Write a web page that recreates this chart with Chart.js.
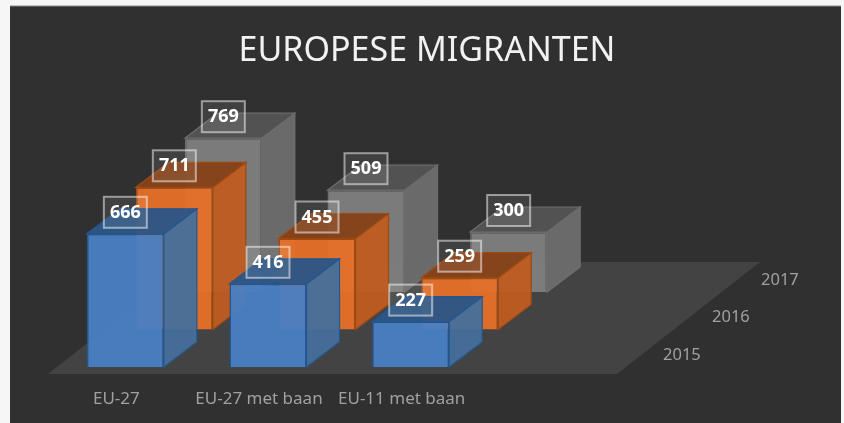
<!DOCTYPE html>
<html>
<head>
<meta charset="utf-8">
<style>
  html, body { margin: 0; padding: 0; background: #f6f6f6; }
  #wrap { width: 844px; height: 423px; }
</style>
<script src="https://cdn.jsdelivr.net/npm/chart.js@4/dist/chart.umd.min.js"></script>
</head>
<body>
<div id="wrap"><canvas id="migrantChart" width="844" height="423"></canvas></div>
<script>
const chartTitle = 'EUROPESE MIGRANTEN';
const categories = ['EU-27', 'EU-27 met baan', 'EU-11 met baan'];
const seriesNames = ['2015', '2016', '2017'];
const values2015 = [666, 416, 227];
const values2016 = [711, 455, 259];
const values2017 = [769, 509, 300];

// colours per series: front, edge, side, top
const frontColors = ['rgba(72,128,196,0.95)', 'rgba(232,112,40,0.94)', 'rgba(128,128,128,0.94)'];
const edgeColors = ['#25568f', '#9c4a12', '#6d6d6d'];
const sideColors = ['rgba(68,110,156,0.94)', 'rgba(190,92,34,0.96)', 'rgba(108,108,108,0.96)'];
const topColors = ['rgba(44,86,134,0.96)', 'rgba(134,66,26,0.97)', 'rgba(84,84,84,0.97)'];

const FONT = "'Noto Sans', sans-serif";
const SLICE_DX = 49, SLICE_DY = -37.5;   // shift between year rows
const DEPTH_DX = 33, DEPTH_DY = -25;     // box depth

function quad(ctx, pts, fill, stroke) {
  ctx.beginPath();
  pts.forEach((p, i) => i ? ctx.lineTo(p[0], p[1]) : ctx.moveTo(p[0], p[1]));
  ctx.closePath();
  ctx.fillStyle = fill;
  ctx.fill();
  ctx.strokeStyle = stroke;
  ctx.lineWidth = 1.2;
  ctx.stroke();
}

// panel, floor and year labels
const stagePlugin = {
  id: 'stage',
  beforeDraw(chart) {
    const ctx = chart.ctx;
    ctx.save();
    ctx.fillStyle = '#303030';
    ctx.fillRect(10, 6, 831, 417);
    ctx.strokeStyle = '#8a8a8a';
    ctx.lineWidth = 1;
    ctx.beginPath();
    ctx.moveTo(10, 6); ctx.lineTo(841, 6);
    ctx.stroke();
    ctx.restore();
  },
  beforeDatasetsDraw(chart) {
    const ctx = chart.ctx;
    const x = chart.scales.x, base = chart.scales.y.getPixelForValue(0);
    const fl = x.left - 6, fr = fl + 569, fy = base + 7;
    ctx.save();
    ctx.beginPath();
    ctx.moveTo(fl, fy);
    ctx.lineTo(fr, fy);
    ctx.lineTo(fr + 143, fy - 112);
    ctx.lineTo(fl + 143, fy - 112);
    ctx.closePath();
    ctx.fillStyle = '#434343';
    ctx.fill();
    ctx.font = '16.5px ' + FONT;
    ctx.fillStyle = '#a0a0a0';
    ctx.textBaseline = 'middle';
    ctx.textAlign = 'left';
    seriesNames.forEach((name, i) => {
      ctx.fillText(name, 663 + i * SLICE_DX, base - 12 + i * SLICE_DY);
    });
    ctx.restore();
  }
};

// each dataset is shifted back one row, side and top faces are added to the bars
const depthPlugin = {
  id: 'depth',
  beforeDatasetDraw(chart, args) {
    chart.ctx.save();
    chart.ctx.translate(args.index * SLICE_DX, args.index * SLICE_DY);
  },
  afterDatasetDraw(chart, args) {
    const ctx = chart.ctx, i = args.index;
    args.meta.data.forEach(bar => {
      const l = bar.x - bar.width / 2, r = bar.x + bar.width / 2, t = bar.y, b = bar.base;
      quad(ctx, [[r, t], [r + DEPTH_DX, t + DEPTH_DY], [r + DEPTH_DX, b + DEPTH_DY], [r, b]], sideColors[i], edgeColors[i]);
      quad(ctx, [[l, t], [l + DEPTH_DX, t + DEPTH_DY], [r + DEPTH_DX, t + DEPTH_DY], [r, t]], topColors[i], edgeColors[i]);
    });
    ctx.restore();
  },
  afterDatasetsDraw(chart) {
    const ctx = chart.ctx;
    ctx.save();
    ctx.font = 'bold 18px ' + FONT;
    ctx.textAlign = 'center';
    ctx.textBaseline = 'middle';
    chart.data.datasets.forEach((ds, i) => {
      chart.getDatasetMeta(i).data.forEach((bar, j) => {
        const cx = bar.x + i * SLICE_DX, cy = bar.y + i * SLICE_DY - 21.5;
        ctx.fillStyle = 'rgba(255,255,255,0.08)';
        ctx.fillRect(cx - 21.5, cy - 15.5, 43, 31);
        ctx.strokeStyle = 'rgba(255,255,255,0.5)';
        ctx.lineWidth = 2;
        ctx.strokeRect(cx - 21.5, cy - 15.5, 43, 31);
        ctx.fillStyle = '#ffffff';
        ctx.fillText(ds.data[j], cx, cy + 0.5);
      });
    });
    ctx.restore();
  }
};

function makeDataset(label, data, i) {
  return {
    label: label,
    data: data,
    grouped: false,
    backgroundColor: frontColors[i],
    borderColor: edgeColors[i],
    borderWidth: 1.5,
    barPercentage: 0.54,
    categoryPercentage: 1,
    clip: false
  };
}

new Chart(document.getElementById('migrantChart'), {
  type: 'bar',
  data: {
    labels: categories,
    datasets: [
      makeDataset(seriesNames[0], values2015, 0),
      makeDataset(seriesNames[1], values2016, 1),
      makeDataset(seriesNames[2], values2017, 2)
    ]
  },
  plugins: [stagePlugin, depthPlugin],
  options: {
    responsive: false,
    animation: false,
    layout: { padding: { left: 10, right: 0, top: 0, bottom: 0 } },
    plugins: {
      legend: { display: false },
      tooltip: { enabled: false },
      title: {
        display: true,
        text: chartTitle,
        color: '#f2f2f2',
        font: { family: FONT, size: 34, weight: 'normal', lineHeight: 1.2 },
        padding: { top: 31, bottom: 15.2 }
      }
    },
    scales: {
      x: {
        grid: { display: false },
        border: { display: false },
        ticks: {
          color: '#a0a0a0',
          font: { family: FONT, size: 17 },
          padding: 14,
          labelOffset: -9,
          maxRotation: 0,
          autoSkip: false
        },
        afterFit: s => { s.height = 56; }
      },
      y: {
        min: 0,
        max: 1400,
        grid: { display: false },
        border: { display: false },
        ticks: { display: false },
        afterFit: s => { s.width = 44; }
      },
      // only reserves the room at the right of the bars
      spacer: {
        type: 'linear',
        position: 'right',
        grid: { display: false },
        border: { display: false },
        ticks: { display: false },
        afterFit: s => { s.width = 362; }
      }
    }
  }
});
</script>
</body>
</html>
